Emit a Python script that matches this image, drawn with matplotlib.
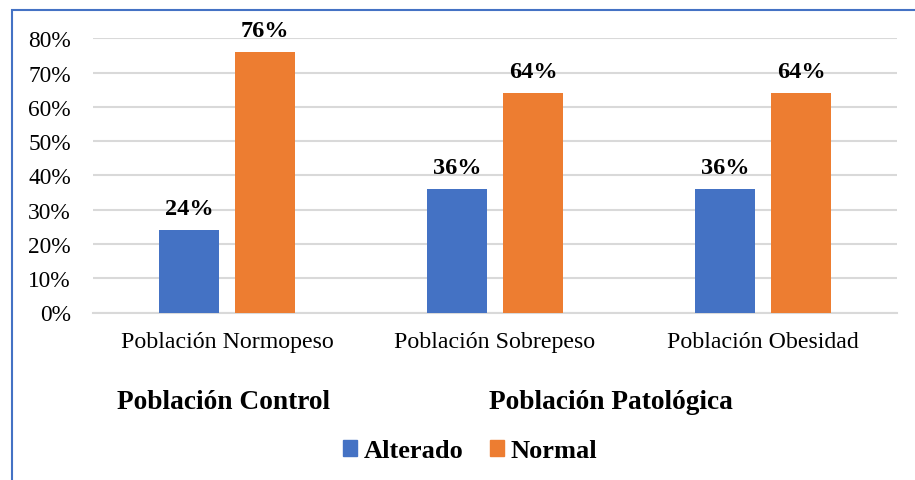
import matplotlib
matplotlib.use("Agg")
import matplotlib.pyplot as plt
from matplotlib.patches import Patch, Rectangle
import numpy as np

categories = ["Población Normopeso", "Población Sobrepeso", "Población Obesidad"]
alterado = [0.24, 0.36, 0.36]
normal = [0.76, 0.64, 0.64]
series_names = ["Alterado", "Normal"]
yticks = [0, 0.1, 0.2, 0.3, 0.4, 0.5, 0.6, 0.7, 0.8]
group_labels = ["Población Control", "Población Patológica"]

BLUE = "#4472C4"
ORANGE = "#ED7D31"
GRID = "#D9D9D9"

plt.rcParams["font.family"] = ["Liberation Serif", "DejaVu Serif"]

W, H = 915, 481
fig = plt.figure(figsize=(W / 100, H / 100), dpi=100)
ax = fig.add_axes([93 / W, 1 - 313.5 / H, (897 - 93) / W, (313.5 - 39.3) / H])

x = np.arange(len(categories))
bw = 0.224
off = 0.142
b1 = ax.bar(x - off, alterado, bw, color=BLUE, zorder=3)
b2 = ax.bar(x + off, normal, bw, color=ORANGE, zorder=3)

for bars, vals in ((b1, alterado), (b2, normal)):
    for b, v in zip(bars, vals):
        ax.annotate(f"{v*100:.0f}%", (b.get_x() + b.get_width() / 2, v),
                    xytext=(0, 8), textcoords="offset points",
                    ha="center", va="bottom", fontsize=17.5, fontweight="bold",
                    zorder=4)

ax.set_xlim(-0.5, len(categories) - 0.5)
ax.set_ylim(0, 0.8)
ax.set_yticks(yticks)
ax.set_yticklabels([f"{t*100:.0f}%" for t in yticks], fontsize=16.8)
ax.set_xticks(x)
ax.set_xticklabels(categories, fontsize=17.2)
ax.tick_params(axis="y", length=0, pad=16)
ax.tick_params(axis="x", length=0, pad=13.5)
ax.grid(axis="y", color=GRID, linewidth=1.5, zorder=0)
ax.set_axisbelow(True)
for s in ["top", "right", "left"]:
    ax.spines[s].set_visible(False)
ax.spines["bottom"].set_color(GRID)
ax.spines["bottom"].set_linewidth(1.5)
ax.set_facecolor("none")

fig.text(224 / W, 1 - 403 / H, group_labels[0], ha="center", va="center",
         fontsize=19.7, fontweight="bold")
fig.text(611 / W, 1 - 403 / H, group_labels[1], ha="center", va="center",
         fontsize=19.7, fontweight="bold")

handles = [Patch(color=BLUE), Patch(color=ORANGE)]
leg = fig.legend(handles, series_names, loc="center", bbox_to_anchor=(470 / W, 1 - 452 / H),
                 ncol=2, frameon=False, prop={"weight": "bold", "size": 19},
                 handlelength=0.55, handleheight=0.55, handletextpad=0.25,
                 columnspacing=1.0, borderpad=0)

fig.patches.append(Rectangle((11.5 / W, -0.1), 1.2, 1 - 10.5 / H + 0.1,
                             transform=fig.transFigure, fill=False,
                             edgecolor=BLUE, linewidth=1.5, zorder=0))

fig.savefig("out.png", dpi=100)
